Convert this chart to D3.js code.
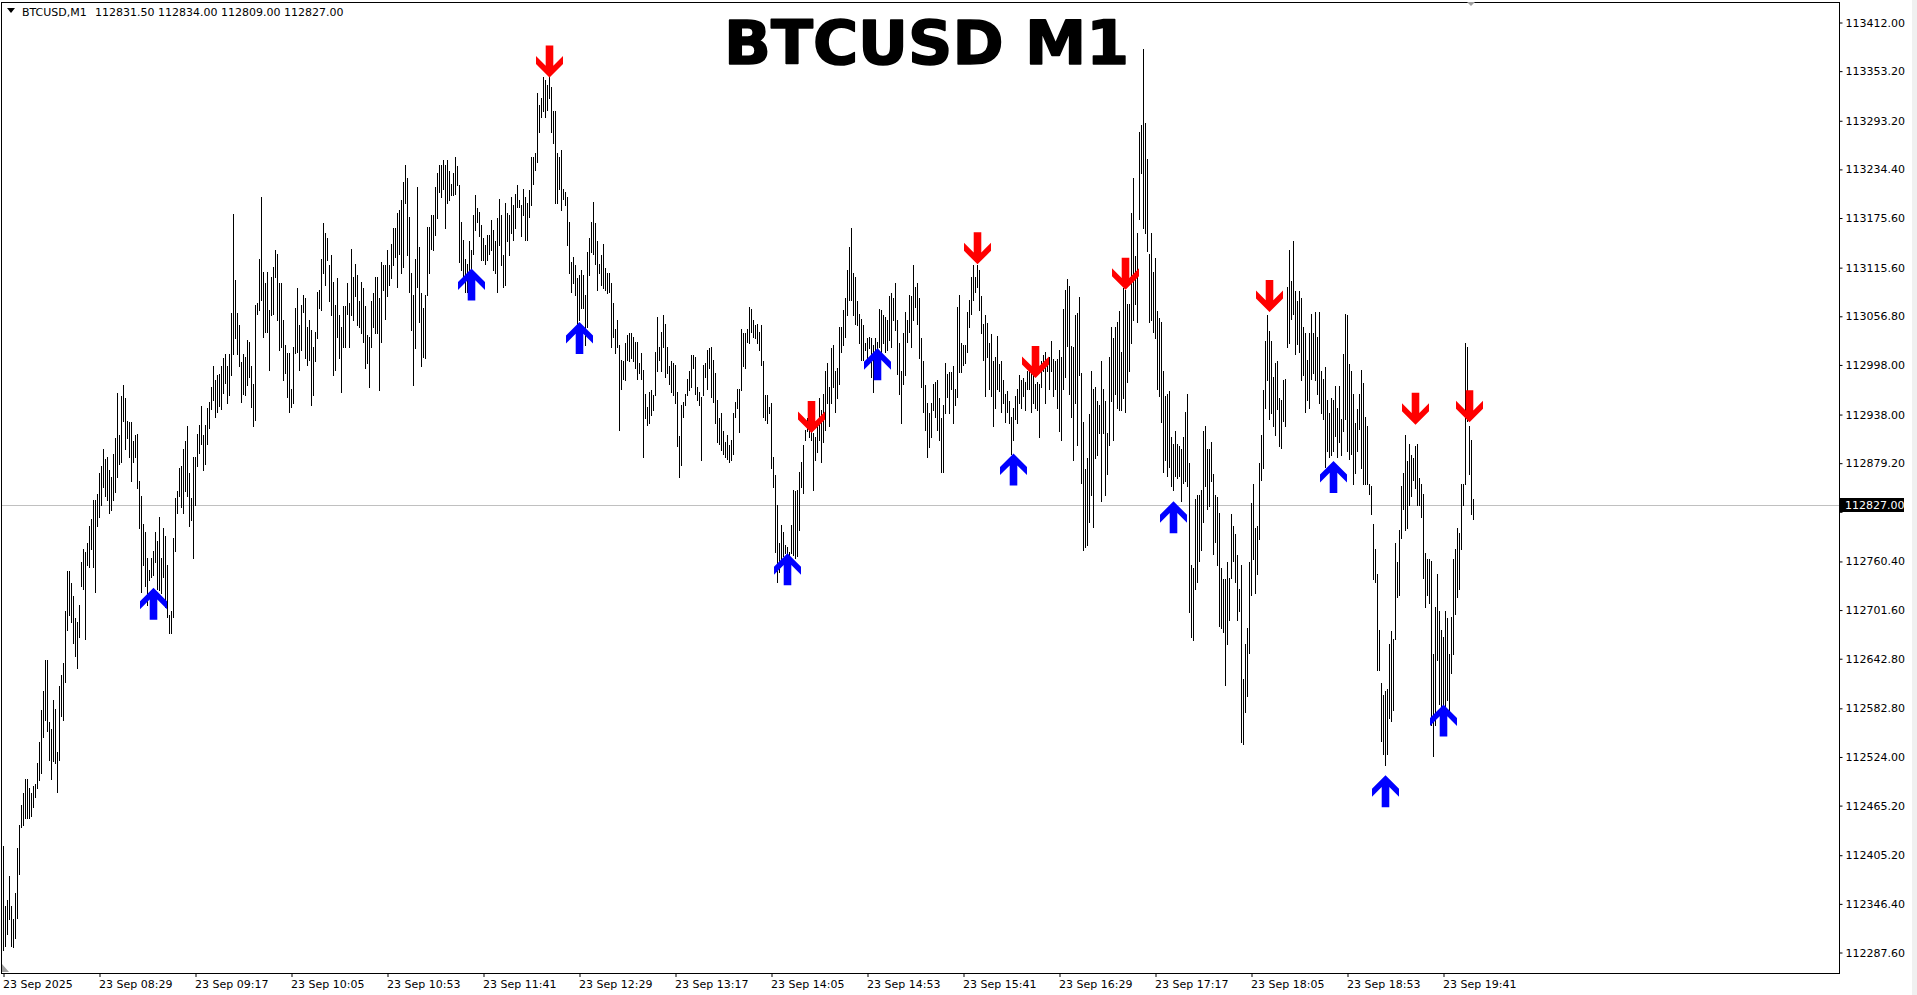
<!DOCTYPE html>
<html><head><meta charset="utf-8">
<script src="https://cdn.jsdelivr.net/npm/d3@7"></script>
<style>html,body{margin:0;padding:0;background:#fff;overflow:hidden}</style>
</head><body>
<svg id="chart" width="1917" height="995"></svg>
<script>
// ---------------- DATA ----------------
const titleText = "BTCUSD M1";
const headerSymbol = "BTCUSD,M1";
const headerOHLC = "112831.50 112834.00 112809.00 112827.00";
const startTime = new Date(2025, 8, 23, 7, 41);
const lastPrice = 112827.00;

const highs = [
112412,112339,112346,112376,112339,112323,112355,112410,112437,112462,
112476,112494,112494,112483,112476,112485,112488,112513,112538,112577,
112600,112638,112638,112563,112554,112590,112579,112526,112606,112620,
112634,112698,112746,112746,112732,112716,112689,112684,112705,112757,
112773,112769,112780,112801,112810,112833,112833,112840,112865,112874,
112895,112883,112885,112869,112860,112888,112908,112963,112911,112959,
112972,112956,112929,112927,112927,112904,112911,112913,112856,112837,
112803,112794,112762,112748,112762,112771,112794,112783,112812,112762,
112799,112789,112753,112693,112698,112787,112835,112844,112872,112874,
112895,112904,112922,112865,112835,112885,112885,112913,112924,112947,
112911,112924,112945,112952,112970,112995,112979,112984,112986,112995,
113005,113010,112995,113010,113060,113180,113100,113060,113045,113000,
113010,113007,113027,113025,112995,112974,113070,113072,113126,113201,
113110,113096,113110,113064,113104,113116,113136,113132,113096,113096,
113051,113021,113011,113011,112968,113019,113066,113090,113045,113070,
113082,113078,113043,113051,113039,113019,113037,113086,113088,113126,
113169,113157,113151,113118,113130,113098,113070,113102,113057,113043,
113068,113068,113096,113072,113138,113104,113120,113106,113074,113098,
113090,113068,113033,113031,113074,113084,113104,113104,113078,113122,
113118,113118,113136,113118,113144,113163,113163,113181,113185,113197,
113219,113240,113224,113177,113108,113082,113126,113213,113140,113084,
113066,113082,113165,113165,113179,113179,113213,113230,113240,113240,
113246,113240,113246,113232,113217,113230,113250,113238,113215,113171,
113149,113126,113120,113147,113136,113179,113203,113187,113183,113167,
113151,113143,113155,113155,113173,113161,113147,113175,113199,113179,
113130,113193,113181,113179,113201,113191,113205,113215,113197,113191,
113211,113201,113193,113209,113250,113250,113254,113327,113313,113321,
113347,113343,113337,113347,113335,113305,113305,113254,113250,113258,
113211,113207,113201,113171,113122,113128,113118,113102,113106,113112,
113106,113082,113134,113151,113171,113195,113169,113147,113120,113130,
113144,113114,113108,113108,113096,113072,113041,113051,113021,113003,
113001,113023,113033,113035,113035,113031,113025,113025,112999,113011,
112991,112962,112946,112964,112966,112960,113013,113055,113019,113037,
113057,113047,113019,112995,113001,112999,112997,112964,112910,112948,
112952,112962,112980,112989,113009,113009,113007,112970,112964,112958,
112997,112999,113015,113017,113019,113003,112987,112954,112932,112938,
112916,112903,112911,112899,112905,112938,112952,112968,112968,113041,
113035,113035,113041,113067,113065,113051,113045,113047,113037,113045,
113001,112960,112960,112946,112950,112885,112863,112826,112780,112802,
112794,112778,112776,112770,112802,112845,112843,112845,112867,112879,
112899,112918,112932,112950,112930,112914,112909,112922,112956,112942,
112962,112990,112999,112970,113017,113021,112990,112993,113043,113043,
113063,113078,113112,113140,113163,113108,113104,113074,113059,113053,
113045,113023,113029,113031,113029,113021,113029,113025,113065,113063,
113057,113055,113051,113080,113084,113078,113096,113051,113023,112990,
113035,113061,113051,113082,113080,113118,113092,113096,113078,113029,
113001,112972,112950,112938,112950,112974,112976,112978,112956,112932,
112948,112999,112986,112988,112988,112995,112968,113067,113082,113023,
113021,113021,113061,113076,113104,113118,113104,113118,113112,113080,
113047,113057,113048,113023,113034,113001,113007,113032,112998,113001,
112979,112962,112965,112953,112934,112945,112959,112967,112984,112979,
112981,112976,112990,112995,112990,112984,112973,112976,112973,113001,
113009,113012,113004,113007,113026,113004,113001,113004,113015,113007,
113065,113088,113101,113093,113020,113018,113057,113060,113079,112987,
112928,112870,112884,112937,112990,112967,112970,112953,112948,113001,
112967,112953,112914,113007,113043,113029,113043,113049,113062,113012,
113090,113088,113071,113071,113182,113224,113129,113157,113280,113288,
113381,113291,113247,113132,113157,113110,113127,113062,113054,113049,
112990,112959,112962,112965,112909,112901,112917,112901,112898,112895,
112909,112940,112962,112878,112753,112750,112834,112839,112839,112845,
112917,112923,112895,112895,112903,112864,112839,112836,112817,112750,
112736,112736,112757,112738,112815,112801,112791,112766,112724,112754,
112615,112657,112677,112757,112829,112852,112799,112801,112878,112912,
112966,113026,113057,113038,113026,112982,112999,113001,112957,112954,
112978,112980,113092,113136,113099,113147,113087,113075,113087,113078,
113043,113036,113003,113036,113059,113036,113061,113031,113061,112989,
112980,112994,112954,112938,112957,112954,112971,112945,112971,112931,
113010,113059,113057,112998,112989,112961,112926,112943,112961,112991,
112975,112933,112922,112852,112850,112803,112773,112743,112675,112610,
112596,112601,112603,112657,112673,112664,112780,112757,112796,112850,
112866,112912,112880,112901,112887,112884,112898,112901,112859,112852,
112840,112768,112761,112761,112759,112645,112703,112743,112698,112675,
112666,112698,112689,112645,112691,112761,112773,112798,112792,112852,
112852,113024,113019,112922,112905,112834
];

const lows = [
112286,112291,112305,112323,112291,112289,112300,112325,112378,112435,
112437,112446,112446,112446,112449,112460,112472,112483,112492,112501,
112545,112565,112552,112517,112494,112515,112513,112478,112517,112570,
112565,112611,112675,112693,112684,112659,112643,112629,112666,112728,
112725,112664,112753,112751,112773,112751,112721,112801,112812,112826,
112849,112837,112833,112817,112821,112833,112842,112860,112876,112879,
112929,112895,112908,112885,112856,112879,112885,112847,112799,112721,
112753,112728,112705,112735,112739,112741,112757,112725,112723,112719,
112739,112703,112691,112671,112671,112691,112771,112817,112837,112824,
112817,112844,112837,112801,112808,112762,112826,112874,112890,112901,
112869,112876,112901,112920,112943,112954,112933,112940,112947,112943,
112963,112975,112950,112960,112985,113010,113030,113010,112995,112952,
112961,112960,112972,112982,112946,112922,112930,113059,113064,113076,
113031,113037,113037,112991,113057,113059,113104,113051,113015,113019,
112978,112987,112958,112940,112946,112950,113011,113013,112991,113015,
113061,113005,112997,113003,112948,112960,113001,113029,113066,113064,
113108,113094,113124,113074,113057,112985,112991,113031,113005,112964,
113019,113019,113059,113019,113057,113051,113080,113045,113043,113035,
113025,112993,112999,112970,113019,113043,113035,113035,112966,113025,
113088,113053,113080,113094,113102,113118,113128,113092,113132,113108,
113116,113193,113130,113086,113039,112972,113017,113092,113049,112995,
113007,113005,113082,113108,113138,113136,113155,113175,113207,113201,
113211,113163,113193,113197,113203,113203,113205,113215,113122,113112,
113100,113086,113086,113112,113114,113132,113161,113171,113153,113124,
113124,113120,113124,113132,113136,113112,113108,113086,113142,113118,
113092,113094,113147,113130,113157,113149,113163,113189,113189,113153,
113179,113149,113149,113177,113191,113217,113234,113244,113280,113298,
113305,113298,113307,113321,113280,113266,113193,113193,113211,113185,
113199,113191,113142,113108,113086,113096,113082,113047,113051,113066,
113066,113021,113043,113106,113134,113132,113120,113088,113108,113094,
113090,113088,113084,113086,113019,113031,113011,113019,112918,112968,
112980,112978,113003,113001,113005,113001,112993,112980,112987,112980,
112885,112932,112924,112926,112936,112942,112960,112989,113003,112989,
113019,112982,112987,112974,112964,112960,112950,112898,112861,112875,
112934,112948,112960,112966,112970,112993,112962,112954,112948,112881,
112960,112982,112968,112993,112958,112952,112926,112903,112901,112893,
112889,112885,112883,112879,112881,112889,112934,112944,112915,112966,
112995,112993,113025,113023,113037,113031,113029,113023,113015,112997,
112934,112930,112926,112938,112871,112849,112770,112733,112745,112756,
112764,112768,112760,112758,112768,112766,112762,112764,112796,112849,
112841,112905,112916,112909,112905,112845,112881,112891,112905,112879,
112903,112918,112950,112922,112950,112970,112940,112956,112974,113013,
113021,113031,113057,113076,113076,113057,113047,113045,113023,113003,
113003,113015,113005,113017,112982,112964,113015,113017,113019,113013,
113023,113013,113015,113027,113019,113051,113039,112986,112962,112926,
112974,112984,113025,113037,113019,113051,113067,113047,113005,112970,
112940,112918,112885,112897,112909,112942,112934,112918,112905,112867,
112867,112938,112958,112938,112968,112926,112948,112958,112988,112988,
112997,112999,113013,113043,113059,113076,113086,113092,113063,113035,
113003,112959,113007,112968,112959,112923,112945,112968,112965,112940,
112951,112928,112940,112926,112889,112906,112931,112926,112951,112945,
112959,112942,112967,112967,112940,112951,112945,112942,112909,112970,
112990,112951,112990,112967,112990,112959,112967,112945,112917,112906,
112967,112982,113020,112962,112934,112881,112951,112900,112984,112853,
112772,112775,112778,112806,112839,112800,112884,112887,112914,112831,
112914,112839,112864,112900,112953,112906,112962,112945,112942,112942,
112956,112940,112976,112990,113023,113051,113071,113049,113174,113230,
113163,113157,113135,113049,113051,113037,113029,112968,112959,112928,
112867,112881,112862,112873,112850,112845,112862,112859,112862,112831,
112853,112856,112850,112697,112666,112663,112725,112733,112758,112772,
112806,112850,112822,112825,112856,112767,112781,112753,112680,112677,
112672,112608,112657,112687,112738,112759,112733,112687,112698,112538,
112536,112575,112594,112647,112717,112761,112719,112743,112785,112857,
112871,112945,112978,112931,112938,112922,112912,112943,112898,112896,
112929,112922,113019,113024,113052,113059,113010,113022,113012,112978,
112985,112940,112954,112945,112980,112987,112978,112961,112950,112938,
112931,112873,112892,112885,112887,112892,112910,112885,112903,112887,
112917,112931,112892,112882,112889,112852,112866,112892,112919,112871,
112852,112852,112852,112840,112815,112736,112733,112626,112626,112540,
112524,112510,112524,112568,112564,112577,112664,112715,112717,112787,
112822,112796,112798,112826,112838,112857,112847,112826,112826,112812,
112738,112703,112717,112708,112559,112522,112559,112638,112585,112577,
112585,112582,112589,112577,112622,112645,112694,112715,112724,112773,
112826,112852,112929,112864,112815,112809
];

const priceTicks = [113412.00,113353.20,113293.20,113234.40,113175.60,113115.60,113056.80,112998.00,112938.00,112879.20,
  112820.40,112760.40,112701.60,112642.80,112582.80,112524.00,112465.20,112405.20,112346.40,112287.60];
const timeTicks = ["07:41","08:29","09:17","10:05","10:53","11:41","12:29","13:17","14:05","14:53","15:41","16:29","17:17","18:05","18:53","19:41"];
const timeTickLabels = ["23 Sep 2025","23 Sep 08:29","23 Sep 09:17","23 Sep 10:05","23 Sep 10:53","23 Sep 11:41","23 Sep 12:29","23 Sep 13:17",
  "23 Sep 14:05","23 Sep 14:53","23 Sep 15:41","23 Sep 16:29","23 Sep 17:17","23 Sep 18:05","23 Sep 18:53","23 Sep 19:41"];

// signal arrows: bar index and price at arrow tip
const buyBars   = [75, 234, 288, 392, 437, 505, 585, 665, 691, 720];
const buyPrices = [112726,113114,113049,112768,113017,112889,112831,112880,112498,112584];
const sellBars   = [273, 404, 487, 516, 561, 633, 706, 733];
const sellPrices = [113346,112914,113119,112981,113088,113061,112924,112927];

// ---------------- LAYOUT ----------------
const W = 1917, H = 995;
const plotRight = 1839, plotBottom = 973, plotTop = 2;
const font = "'DejaVu Sans', Verdana, sans-serif";

const svg = d3.select("#chart");
svg.append("rect").attr("width", W).attr("height", H).attr("fill", "#fff");

const n = Math.min(highs.length, lows.length);
const barTime = i => d3.timeMinute.offset(startTime, i);
const x = d3.scaleTime().domain([startTime, barTime(735)]).range([3, 1473]);
const y = d3.scaleLinear().domain([112287.6, 113412.0]).range([948.4, 23.3]);
// label rows of the price scale (evenly spaced rows as the terminal draws them)
const yLab = d3.scaleLinear().domain([112287.6, 113412.0]).range([952.5, 22.5]);

const bars = d3.range(n).map(i => ({t: barTime(i), h: highs[i], l: lows[i]}));

// current price line
const yLast = Math.round(y(lastPrice)) + 0.5;
svg.append("line").attr("x1", 2).attr("x2", plotRight).attr("y1", yLast).attr("y2", yLast)
  .attr("stroke", "#c0c0c0").attr("stroke-width", 1);

// bars
svg.append("g").attr("shape-rendering", "crispEdges").selectAll("rect").data(bars).join("rect")
  .attr("x", d => Math.round(x(d.t)))
  .attr("y", d => Math.round(y(d.h)))
  .attr("width", 1)
  .attr("height", d => Math.max(1, Math.round(y(d.l)) - Math.round(y(d.h)) + 1))
  .attr("fill", "#000");

// arrows
const upPath = "M0,0 L13.5,13.5 L13.5,21.5 L3.8,11.8 L3.8,32 L-3.8,32 L-3.8,11.8 L-13.5,21.5 L-13.5,13.5 Z";
const downPath = "M0,0 L13.5,-13.5 L13.5,-21.5 L3.8,-11.8 L3.8,-32 L-3.8,-32 L-3.8,-11.8 L-13.5,-21.5 L-13.5,-13.5 Z";
svg.append("g").selectAll("path").data(buyBars.map((b, i) => ({b, p: buyPrices[i]}))).join("path")
  .attr("d", upPath)
  .attr("transform", d => `translate(${Math.round(x(barTime(d.b)))+0.5},${y(d.p)})`)
  .attr("fill", "#0000ff");
svg.append("g").selectAll("path").data(sellBars.map((b, i) => ({b, p: sellPrices[i]}))).join("path")
  .attr("d", downPath)
  .attr("transform", d => `translate(${Math.round(x(barTime(d.b)))+0.5},${y(d.p)})`)
  .attr("fill", "#ff0000");

// title
svg.append("text").attr("x", 724).attr("y", 64)
  .attr("font-family", "'DejaVu Sans', sans-serif").attr("font-weight", "bold")
  .attr("font-size", 60).attr("textLength", 405).attr("lengthAdjust", "spacingAndGlyphs")
  .attr("fill", "#000").attr("stroke", "#000").attr("stroke-width", 1.6).attr("stroke-linejoin", "round")
  .text(titleText);

// frame
svg.append("rect").attr("x", 1.5).attr("y", plotTop + 0.5).attr("width", plotRight - 1.5).attr("height", plotBottom - plotTop)
  .attr("fill", "none").attr("stroke", "#000").attr("stroke-width", 1).attr("shape-rendering", "crispEdges");

// price axis
const yAxis = d3.axisRight(yLab).tickValues(priceTicks).tickSize(3).tickPadding(3).tickFormat(d => d.toFixed(2));
const gy = svg.append("g").attr("transform", `translate(${plotRight + 0.5},0)`).call(yAxis);
gy.select(".domain").remove();
gy.selectAll("text").attr("font-family", font).attr("font-size", 11).attr("fill", "#000");
gy.selectAll("line").attr("stroke", "#000");
// the row hidden under the last-price box keeps only its lower sliver visible
svg.append("clipPath").attr("id", "hideRow").append("rect").attr("x", plotRight).attr("y", Math.round(y(lastPrice)) + 7).attr("width", 80).attr("height", 20);
gy.selectAll(".tick").filter(d => Math.abs(d - 112820.40) < 0.01).select("text").attr("clip-path", "url(#hideRow)");

// last price box
svg.append("rect").attr("x", plotRight).attr("y", Math.round(y(lastPrice)) - 7).attr("width", 65).attr("height", 14).attr("fill", "#000");
svg.append("text").attr("x", plotRight + 6).attr("y", Math.round(y(lastPrice)) + 4)
  .attr("font-family", font).attr("font-size", 11).attr("fill", "#fff").text(lastPrice.toFixed(2));

// time axis
const tickDates = timeTicks.map(s => { const [hh, mm] = s.split(":").map(Number); return new Date(2025, 8, 23, hh, mm); });
const xAxis = d3.axisBottom(x).tickValues(tickDates).tickSize(4).tickFormat((d, i) => timeTickLabels[i]);
const gx = svg.append("g").attr("transform", `translate(0.5,${plotBottom})`).call(xAxis);
gx.select(".domain").remove();
gx.selectAll("line").attr("stroke", "#000");
gx.selectAll("text").attr("font-family", font).attr("font-size", 11).attr("fill", "#000")
  .attr("text-anchor", "start").attr("x", -1).attr("dy", "0.71em").attr("y", 7);

// header
svg.append("path").attr("d", "M7,8 L15,8 L11,13 Z").attr("fill", "#000");
svg.append("text").attr("x", 22).attr("y", 16).attr("font-family", font).attr("font-size", 11).attr("fill", "#000").text(headerSymbol);
svg.append("text").attr("x", 95).attr("y", 16).attr("font-family", font).attr("font-size", 11).attr("fill", "#000").text(headerOHLC);

// small markers
svg.append("path").attr("d", "M1467,2 L1475,2 L1471,6 Z").attr("fill", "#a0a0a0");
svg.append("path").attr("d", "M2,964 L2,972 L9,972 Z").attr("fill", "#a0a0a0");
svg.append("rect").attr("x", 1912).attr("y", 0).attr("width", 5).attr("height", H).attr("fill", "#f0f0f0");
</script>
</body></html>
